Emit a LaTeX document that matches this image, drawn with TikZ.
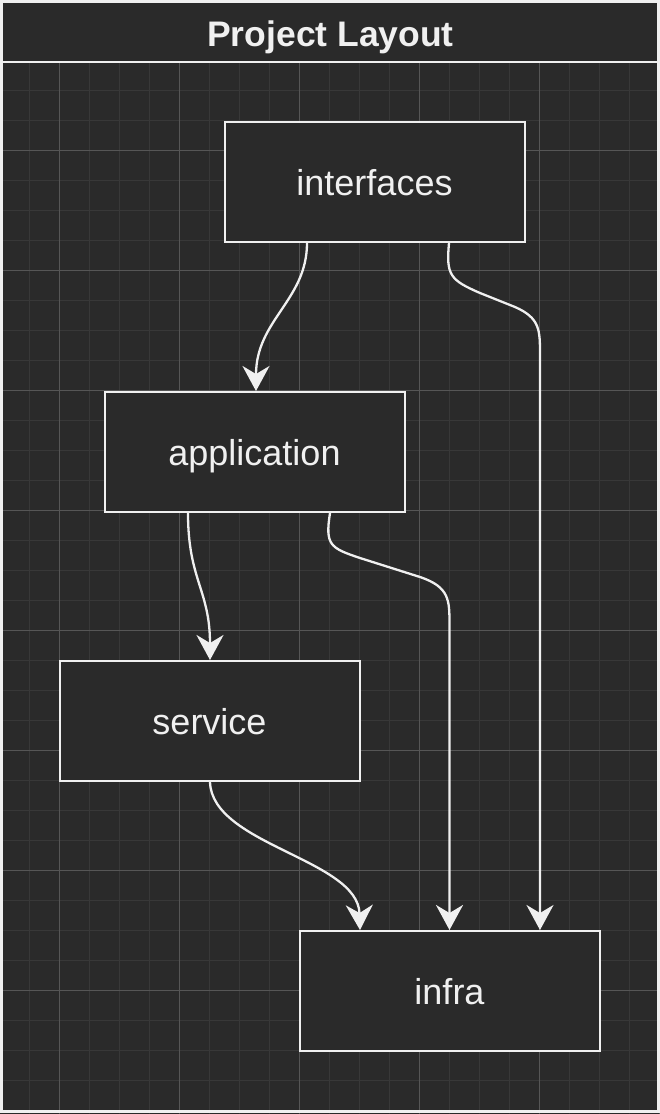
\documentclass[tikz,border=0pt]{standalone}
\usepackage{fontspec}
\setmainfont{Liberation Sans}
\usetikzlibrary{arrows.meta}
\usetikzlibrary{positioning}
\definecolor{canvas}{RGB}{42,42,42}
\definecolor{gridminor}{RGB}{56,56,56}
\definecolor{gridmajor}{RGB}{86,86,86}
\definecolor{ink}{RGB}{240,240,240}

\begin{document}
\begin{tikzpicture}[
        x=1pt, y=-1pt,
        box/.style={draw=ink, line width=2pt, fill=canvas, text=ink, minimum width=300pt, minimum height=120pt, inner sep=0pt, text height=26pt, text depth=0pt, font=\fontsize{36}{42}\selectfont},
        arrow/.style={draw=ink, line width=2.3pt, -{Stealth[length=25pt, width=27pt, inset=8pt]}}
    ]
        % Canvas with its grid
        \useasboundingbox (0,0) rectangle (660,1114);
        \fill[canvas] (0,0) rectangle (660,1114);
        \foreach \x in {29,59,...,659} \draw[gridminor, line width=1pt] (\x,0) -- (\x,1114);
        \foreach \y in {0.7,30.7,...,1111} \draw[gridminor, line width=1pt] (0,\y) -- (660,\y);
        \foreach \x in {59,179,...,659} \draw[gridmajor, line width=1pt] (\x,0) -- (\x,1114);
        \foreach \y in {30.7,150.7,...,1111} \draw[gridmajor, line width=1pt] (0,\y) -- (660,\y);

        % Container with title bar
        \fill[canvas] (1.5,1.5) rectangle (658.5,61.7);
        \draw[ink, line width=2.2pt] (1.5,1.5) rectangle (658.5,1111.5);
        \draw[ink, line width=2.2pt] (1.5,61.7) -- (658.5,61.7);
        \node[text=ink, inner sep=0pt, text height=25.5pt, text depth=0pt, font=\bfseries\fontsize{35.5}{42}\selectfont] (title) at (330.5,33.5) {Project Layout};

        % Layers
        \node[box] (iface) at (374.5,182) {interfaces};
        \node[box] (app) at (254.5,452) {application};
        \node[box] (svc) at (209.5,721) {service};
        \node[box] (infra) at (449.5,991) {infra};

        % Dependencies between layers
        \draw[arrow] ([xshift=-67.5pt]iface.south) .. controls +(0,57) and +(0,-71) .. ([xshift=1.5pt]app.north);
        \draw[arrow] ([xshift=74.5pt]iface.south) .. controls (446,275) and (450,280) .. (480,293) -- (515,307)
            .. controls (540,318) and (540,330) .. (540,355) -- ([xshift=90.5pt]infra.north);
        \draw[arrow] ([xshift=-66.5pt]app.south) .. controls +(0,67) and +(0,-70) .. ([xshift=0.5pt]svc.north);
        \draw[arrow] ([xshift=75.5pt]app.south) .. controls (325,545) and (330,548) .. (360,558) -- (420,577)
            .. controls (449.5,587) and (449.5,600) .. (449.5,625) -- (infra.north);
        \draw[arrow] ([xshift=0.5pt]svc.south) .. controls +(2,63) and +(-2,-71) .. ([xshift=-89.5pt]infra.north);
    \end{tikzpicture}
\end{document}
